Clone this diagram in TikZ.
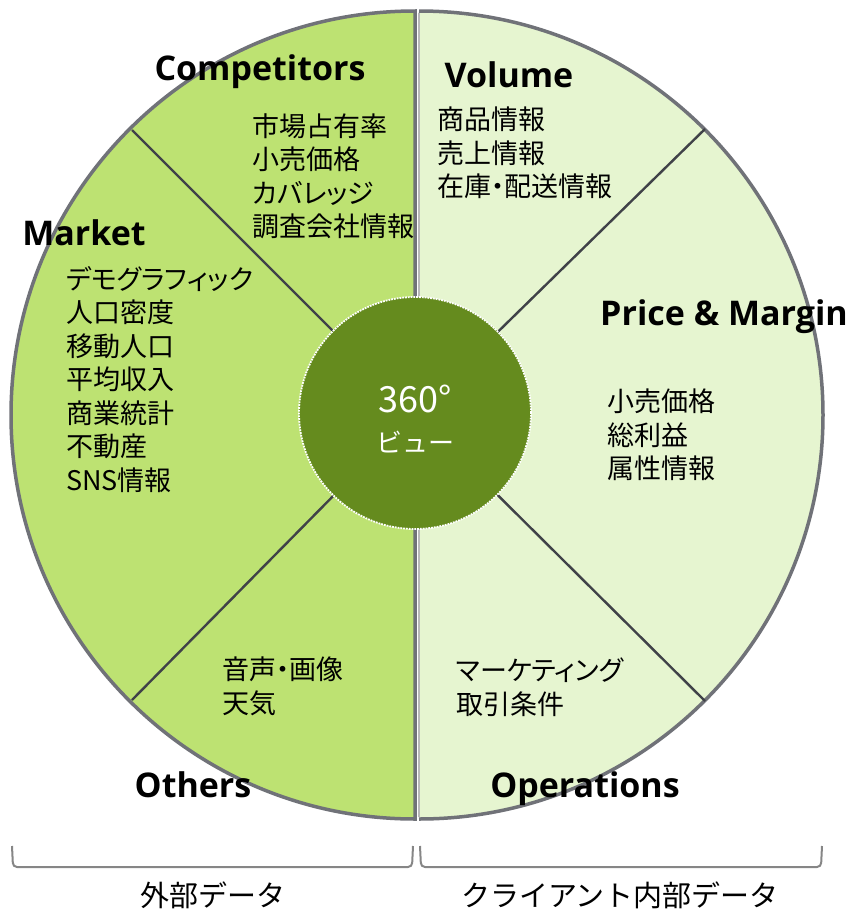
\documentclass[tikz,border=0pt]{standalone}
\usepackage{fontspec}
\newfontfamily\jp{Noto Sans CJK JP}
\newfontfamily\jpp{Noto Sans CJK JP}[RawFeature=+palt]
\newfontfamily\hd{Open Sans}
\definecolor{outgreen}{RGB}{189,226,114}
\definecolor{ingreen}{RGB}{230,245,208}
\definecolor{hubgreen}{RGB}{101,139,30}
\definecolor{rimgray}{RGB}{112,114,120}
\definecolor{spokegray}{RGB}{64,66,72}
\begin{document}
\begin{tikzpicture}[x=1pt, y=1pt,
    rim/.style={draw=rimgray, line width=3.5pt},
    spoke/.style={draw=spokegray, line width=2.4pt},
    head/.style={font=\hd\bfseries\fontsize{34}{38}\selectfont, anchor=base},
    items/.style={font=\jpp\fontsize{27}{33.5}\selectfont, align=left, anchor=north west, inner sep=0pt},
    brace/.style={draw=gray!95, line width=2pt, rounded corners=4pt},
    tag/.style={font=\jp\fontsize{29}{32}\selectfont}]
    \useasboundingbox (0,0) rectangle (851,-916);

    % Two halves of the wheel
    \filldraw[fill=outgreen, rim] (415,-11) arc (90:270:404) -- cycle;
    \fill[ingreen] (419,-11) arc (90:-90:404) -- cycle;
    \draw[rim] (419,-11) arc (90:-90:404);
    \draw[draw=gray!55, line width=2.5pt] (419,-13) -- (419,-817);

    % Center hub
    \coordinate (mid) at (415,-413);
    \coordinate (ul) at (132,-130);
    \coordinate (ll) at (132,-700);
    \coordinate (ur) at (705,-129);
    \coordinate (lr) at (705,-701);
    \draw[spoke] (ul) -- (mid);
    \draw[spoke] (ll) -- (mid);
    \draw[spoke] (ur) -- (mid);
    \draw[spoke] (lr) -- (mid);
    \node[circle, fill=hubgreen, draw=white, densely dotted, line width=1.8pt,
          minimum size=232pt, inner sep=0pt] (hub) at (mid) {};
    \node[font=\jp\fontsize{36}{40}\selectfont, text=white] (deg) at (415,-399) {360°};
    \node[font=\jp\fontsize{26}{32}\selectfont, text=white] (view) at (415,-442) {ビュー};

    % Section headings
    \node[head] (comp) at (260,-80) {Competitors};
    \node[head] (vol) at (509,-87) {Volume};
    \node[head] (mkt) at (84,-245) {Market};
    \node[head] (price) at (724,-325) {Price \& Margin};
    \node[head] (oth) at (193,-797) {Others};
    \node[head] (ops) at (585,-797) {Operations};

    % Section contents
    \node[items] (complist) at (252,-113) {市場占有率\\小売価格\\カバレッジ\\調査会社情報};
    \node[items] (vollist) at (437,-107) {商品情報\\売上情報\\在庫・配送情報};
    \node[items] (mktlist) at (66,-266) {デモグラフィック\\人口密度\\移動人口\\平均収入\\商業統計\\不動産\\SNS情報};
    \node[items] (pricelist) at (607,-389) {小売価格\\総利益\\属性情報};
    \node[items] (othlist) at (222,-657) {音声・画像\\天気};
    \node[items] (opslist) at (456,-658) {マーケティング\\取引条件};

    % Brackets underneath
    \draw[brace] (12,-846) -- (13,-867) -- (412,-867) -- (413,-846);
    \draw[brace] (420,-846) -- (421,-867) -- (821,-867) -- (822,-846);
    \node[tag] (ext) at (213,-895) {外部データ};
    \node[tag] (int) at (620,-895) {クライアント内部データ};
\end{tikzpicture}
\end{document}
